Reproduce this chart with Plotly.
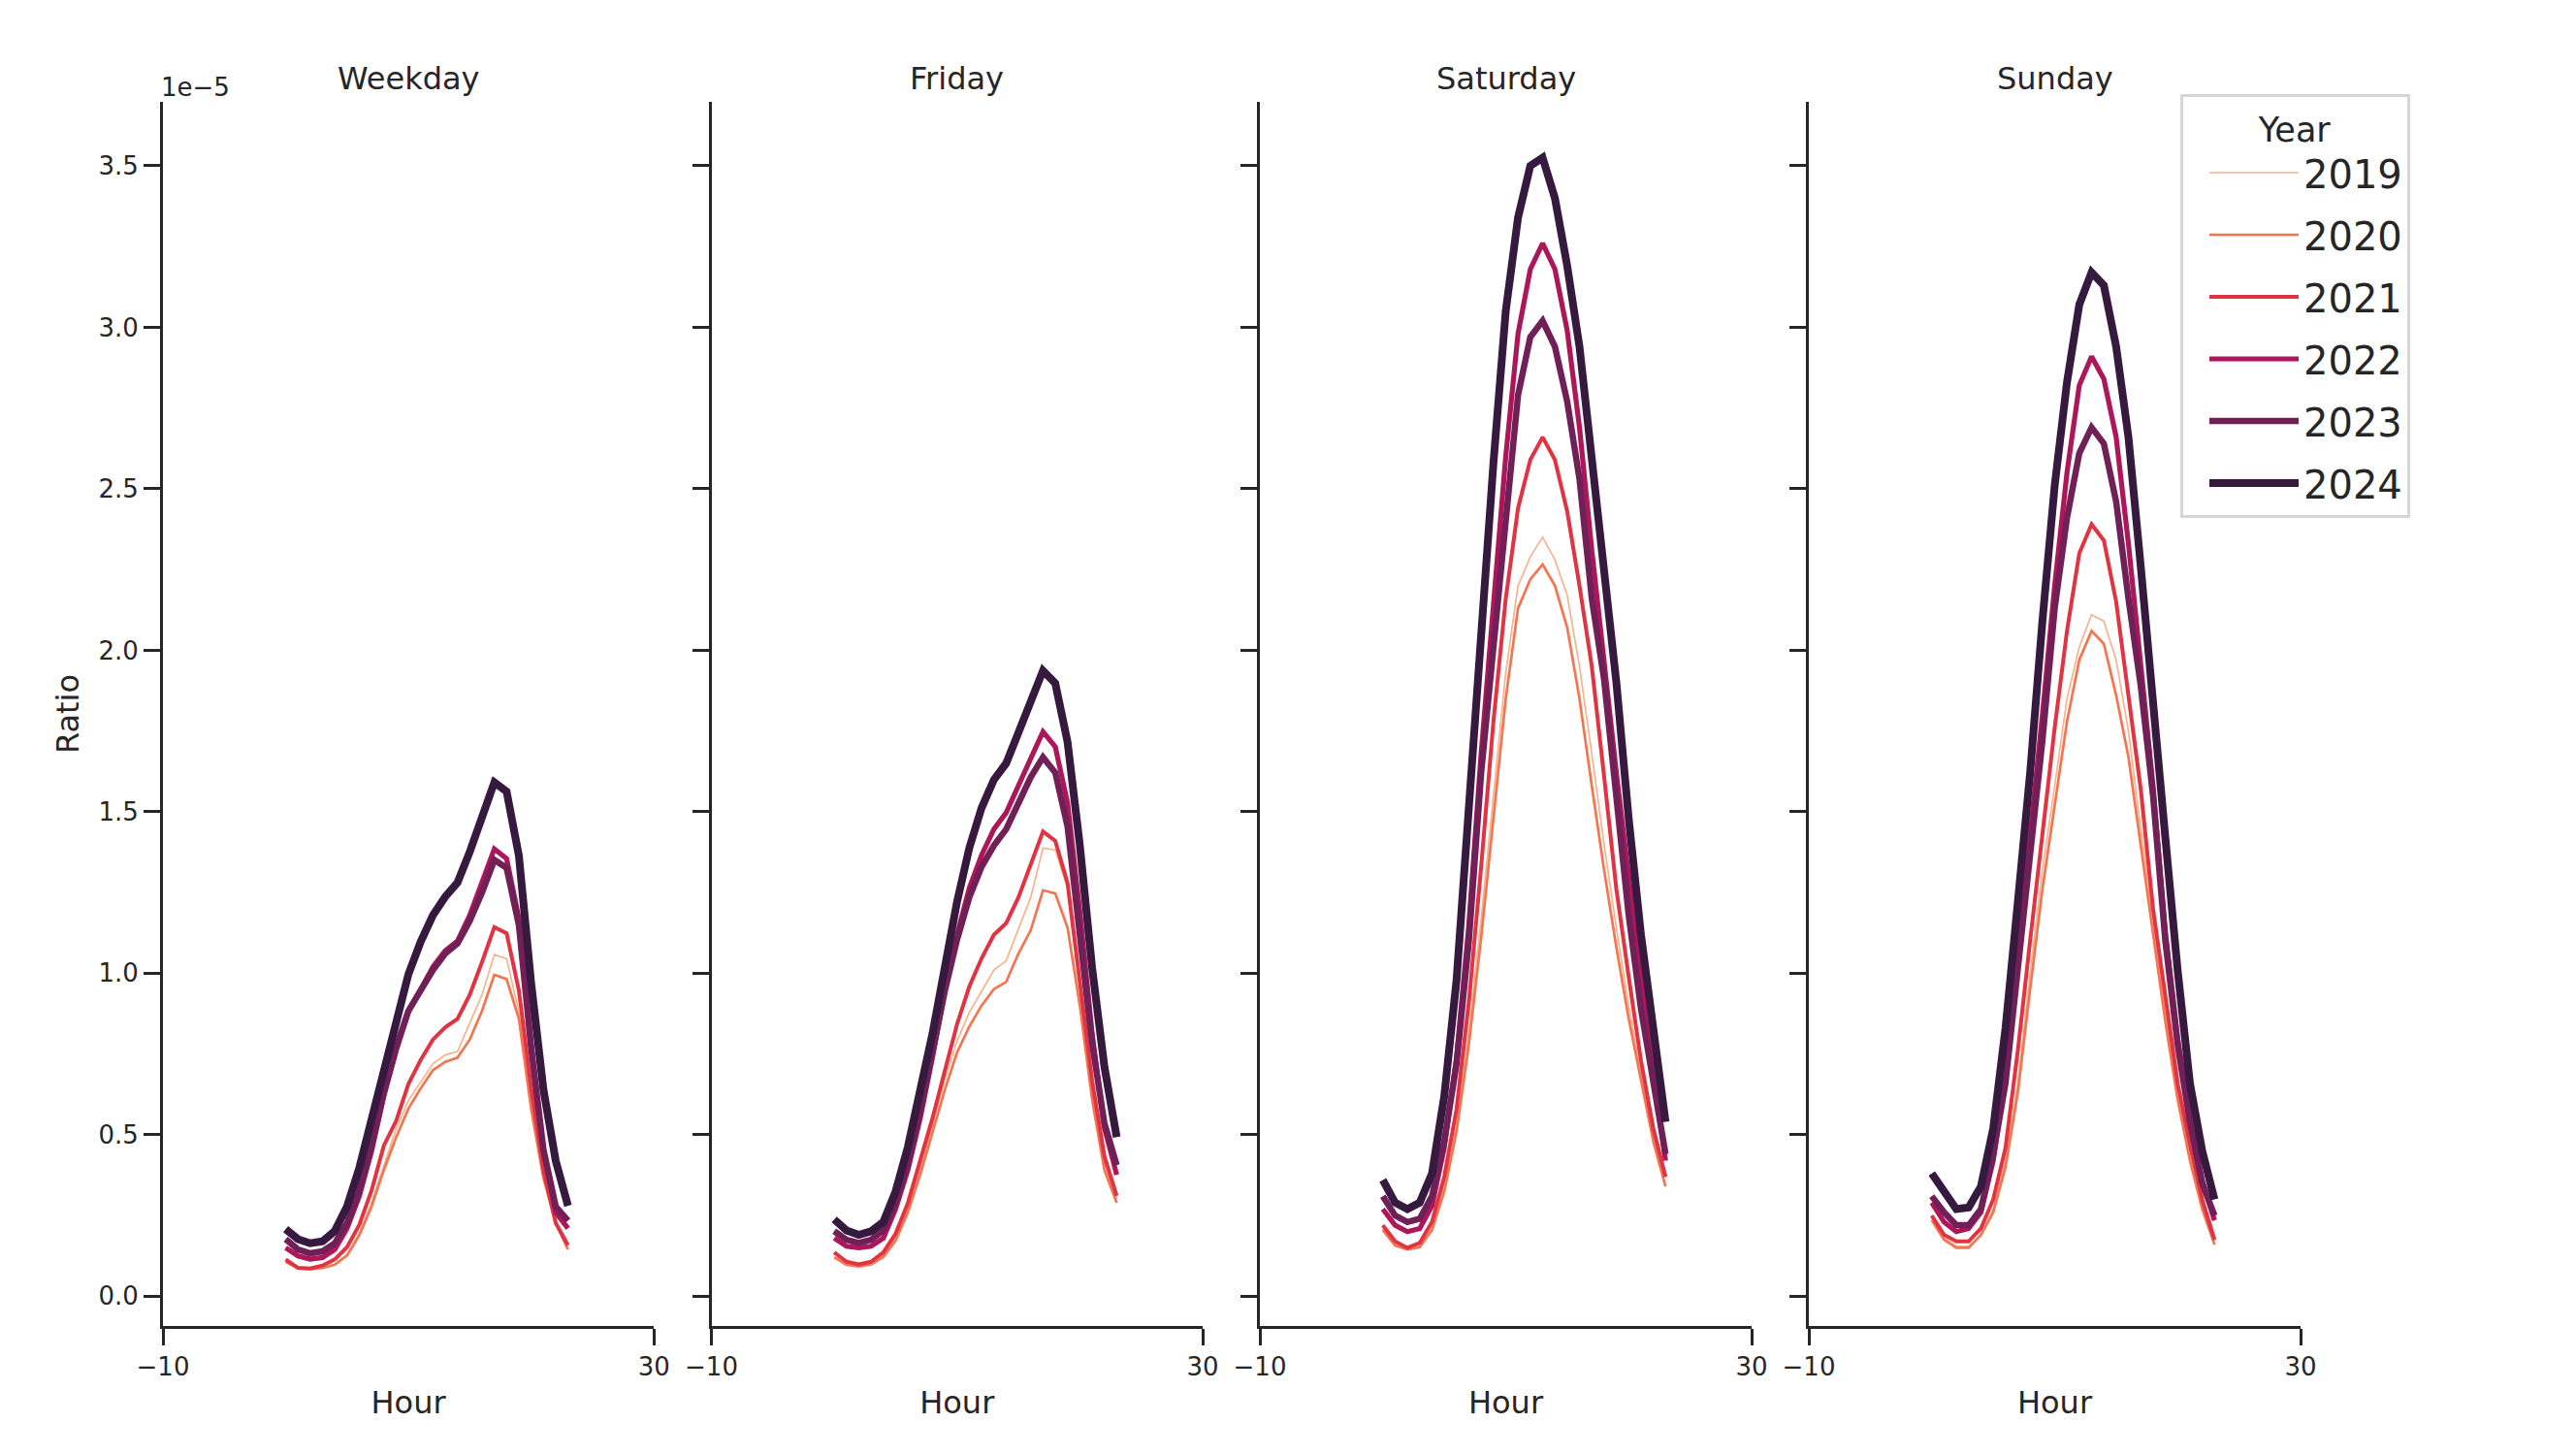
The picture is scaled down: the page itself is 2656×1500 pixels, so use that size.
import plotly.graph_objects as go

# ---------------- data (Ratio, in units of 1e-5) ----------------
hours = list(range(24))
years = ["2019", "2020", "2021", "2022", "2023", "2024"]
scale = 1e-5

weekday = {
    "2019": [0.105, 0.085, 0.083, 0.087, 0.098, 0.13, 0.195, 0.29, 0.405, 0.518, 0.606, 0.663, 0.72, 0.747, 0.758, 0.846, 0.934, 1.058, 1.045, 0.88, 0.60, 0.37, 0.23, 0.15],
    "2020": [0.107, 0.088, 0.085, 0.088, 0.098, 0.126, 0.189, 0.278, 0.391, 0.492, 0.581, 0.644, 0.70, 0.726, 0.739, 0.795, 0.884, 0.995, 0.982, 0.859, 0.58, 0.366, 0.227, 0.145],
    "2021": [0.114, 0.088, 0.086, 0.095, 0.114, 0.152, 0.221, 0.328, 0.467, 0.543, 0.657, 0.732, 0.795, 0.833, 0.859, 0.934, 1.035, 1.143, 1.124, 0.947, 0.644, 0.391, 0.227, 0.158],
    "2022": [0.15, 0.125, 0.115, 0.12, 0.145, 0.21, 0.31, 0.45, 0.62, 0.76, 0.88, 0.95, 1.02, 1.07, 1.10, 1.18, 1.28, 1.385, 1.355, 1.17, 0.78, 0.45, 0.26, 0.21],
    "2023": [0.177, 0.145, 0.133, 0.139, 0.164, 0.227, 0.328, 0.467, 0.631, 0.77, 0.884, 0.947, 1.01, 1.061, 1.092, 1.162, 1.25, 1.351, 1.326, 1.149, 0.77, 0.455, 0.278, 0.234],
    "2024": [0.208, 0.177, 0.164, 0.17, 0.202, 0.278, 0.398, 0.549, 0.713, 0.859, 0.997, 1.098, 1.18, 1.237, 1.281, 1.376, 1.49, 1.591, 1.563, 1.364, 0.97, 0.64, 0.42, 0.28],
}

friday = {
    "2019": [0.12, 0.10, 0.095, 0.10, 0.125, 0.18, 0.27, 0.39, 0.53, 0.67, 0.79, 0.879, 0.944, 1.010, 1.039, 1.135, 1.235, 1.388, 1.381, 1.264, 0.95, 0.64, 0.41, 0.30],
    "2020": [0.121, 0.097, 0.092, 0.099, 0.121, 0.172, 0.26, 0.376, 0.507, 0.638, 0.755, 0.835, 0.90, 0.951, 0.973, 1.061, 1.133, 1.257, 1.247, 1.141, 0.90, 0.609, 0.391, 0.289],
    "2021": [0.136, 0.107, 0.099, 0.107, 0.136, 0.194, 0.289, 0.42, 0.551, 0.697, 0.842, 0.959, 1.046, 1.119, 1.155, 1.235, 1.337, 1.439, 1.41, 1.279, 0.973, 0.667, 0.434, 0.311],
    "2022": [0.18, 0.155, 0.15, 0.155, 0.18, 0.27, 0.391, 0.551, 0.74, 0.944, 1.119, 1.264, 1.366, 1.446, 1.497, 1.585, 1.665, 1.748, 1.701, 1.527, 1.192, 0.813, 0.522, 0.376],
    "2023": [0.2015, 0.175, 0.165, 0.175, 0.204, 0.289, 0.413, 0.573, 0.755, 0.944, 1.104, 1.235, 1.33, 1.395, 1.446, 1.527, 1.607, 1.669, 1.621, 1.454, 1.133, 0.784, 0.536, 0.406],
    "2024": [0.238, 0.204, 0.19, 0.201, 0.23, 0.325, 0.463, 0.638, 0.813, 1.017, 1.221, 1.388, 1.512, 1.599, 1.65, 1.745, 1.847, 1.937, 1.898, 1.716, 1.396, 1.017, 0.711, 0.493],
}

saturday = {
    "2019": [0.21, 0.16, 0.145, 0.155, 0.21, 0.34, 0.53, 0.82, 1.17, 1.56, 1.93, 2.20, 2.29, 2.35, 2.28, 2.17, 1.95, 1.68, 1.40, 1.14, 0.90, 0.69, 0.49, 0.34],
    "2020": [0.205, 0.157, 0.145, 0.152, 0.205, 0.324, 0.51, 0.78, 1.11, 1.49, 1.85, 2.13, 2.22, 2.266, 2.20, 2.07, 1.85, 1.58, 1.32, 1.08, 0.86, 0.67, 0.48, 0.34],
    "2021": [0.22, 0.17, 0.15, 0.165, 0.23, 0.37, 0.58, 0.91, 1.33, 1.78, 2.16, 2.44, 2.59, 2.66, 2.59, 2.43, 2.20, 1.95, 1.61, 1.26, 0.99, 0.73, 0.52, 0.37],
    "2022": [0.27, 0.22, 0.20, 0.21, 0.28, 0.46, 0.74, 1.15, 1.68, 2.15, 2.60, 2.98, 3.18, 3.26, 3.18, 2.99, 2.69, 2.31, 1.96, 1.62, 1.30, 0.98, 0.70, 0.42],
    "2023": [0.31, 0.25, 0.23, 0.24, 0.31, 0.48, 0.72, 1.10, 1.62, 2.02, 2.37, 2.79, 2.97, 3.02, 2.94, 2.77, 2.53, 2.16, 1.91, 1.54, 1.18, 0.89, 0.66, 0.44],
    "2024": [0.36, 0.29, 0.27, 0.29, 0.38, 0.62, 0.98, 1.53, 2.08, 2.58, 3.05, 3.34, 3.50, 3.525, 3.40, 3.19, 2.94, 2.60, 2.25, 1.90, 1.48, 1.12, 0.83, 0.54],
}

sunday = {
    "2019": [0.24, 0.18, 0.155, 0.155, 0.19, 0.27, 0.42, 0.66, 1.00, 1.32, 1.58, 1.85, 2.01, 2.11, 2.09, 1.97, 1.75, 1.45, 1.17, 0.88, 0.64, 0.45, 0.29, 0.17],
    "2020": [0.235, 0.175, 0.15, 0.15, 0.19, 0.26, 0.40, 0.63, 0.95, 1.26, 1.52, 1.78, 1.97, 2.06, 2.02, 1.86, 1.67, 1.40, 1.12, 0.85, 0.61, 0.42, 0.27, 0.16],
    "2021": [0.25, 0.19, 0.17, 0.17, 0.21, 0.30, 0.46, 0.76, 1.10, 1.43, 1.76, 2.06, 2.30, 2.39, 2.34, 2.15, 1.86, 1.57, 1.20, 0.93, 0.66, 0.47, 0.30, 0.175],
    "2022": [0.29, 0.23, 0.20, 0.21, 0.26, 0.42, 0.68, 1.05, 1.42, 1.80, 2.20, 2.55, 2.82, 2.91, 2.84, 2.66, 2.33, 1.97, 1.58, 1.13, 0.80, 0.55, 0.36, 0.235],
    "2023": [0.31, 0.26, 0.22, 0.22, 0.27, 0.44, 0.66, 1.02, 1.38, 1.72, 2.13, 2.41, 2.61, 2.69, 2.64, 2.46, 2.16, 1.89, 1.55, 1.10, 0.78, 0.54, 0.35, 0.25],
    "2024": [0.38, 0.32, 0.27, 0.275, 0.34, 0.52, 0.83, 1.22, 1.62, 2.09, 2.51, 2.83, 3.07, 3.17, 3.13, 2.94, 2.66, 2.26, 1.87, 1.42, 1.01, 0.66, 0.45, 0.30],
}

panel_names = ["Weekday", "Friday", "Saturday", "Sunday"]
panel_data = [weekday, friday, saturday, sunday]

y_tick_values = [0.0, 0.5, 1.0, 1.5, 2.0, 2.5, 3.0, 3.5]
y_tick_labels = ["0.0", "0.5", "1.0", "1.5", "2.0", "2.5", "3.0", "3.5"]
x_tick_values = [-10, 30]

# ---------------- style / layout ----------------
colors = ["#f6b48f", "#f37651", "#e13342", "#ad1759", "#701f57", "#35193e"]
widths = [1.7, 2.7, 4.0, 5.2, 6.5, 8.0]
W, H = 2656, 1500
FONT = "DejaVu Sans"
INK = "#262626"
OFF = 8.0  # page body offset of the figure in the screenshot

# plot-area margins (pixels, in screenshot coordinates minus page offset)
L, R, T, B = 168.0 - OFF, 284.0 + OFF, 105.0 - OFF, 133.0 + OFF
PW, PH = W - L - R, H - T - B


def px_x(px):
    return (px - OFF - L) / PW


def px_y(py):
    return (H - B - (py - OFF)) / PH


x_px = [(168.0, 674.2), (733.5, 1240.0), (1299.0, 1806.0), (1865.0, 2372.0)]

fig = go.Figure()

for i, (name, data) in enumerate(zip(panel_names, panel_data)):
    xa = "x" if i == 0 else f"x{i+1}"
    ya = "y" if i == 0 else f"y{i+1}"
    for j, yr in enumerate(years):
        fig.add_trace(go.Scatter(
            x=hours, y=[v * scale for v in data[yr]],
            mode="lines", name=yr, legendgroup=yr, showlegend=(i == 0),
            line=dict(color=colors[j], width=widths[j]),
            xaxis=xa, yaxis=ya,
        ))

axis_common = dict(
    showline=True, linecolor=INK, linewidth=3, mirror=False,
    ticks="outside", ticklen=17, tickwidth=3, tickcolor=INK,
    showgrid=False, zeroline=False, automargin=False,
    tickfont=dict(family=FONT, size=26, color=INK),
)

layout = dict(
    width=W, height=H,
    margin=dict(l=L, r=R, t=T, b=B, autoexpand=False),
    paper_bgcolor="white", plot_bgcolor="white",
    font=dict(family=FONT, color=INK),
    showlegend=True,
    legend=dict(
        title=dict(text="Year", font=dict(family=FONT, size=35, color=INK), side="top center"),
        font=dict(family=FONT, size=40, color=INK),
        x=px_x(2248), y=px_y(97), xanchor="left", yanchor="top",
        bgcolor="rgba(255,255,255,0.8)", bordercolor="#d6d6d6", borderwidth=3,
        tracegroupgap=9, itemwidth=92, indentation=22,
    ),
)

yr_lo, yr_hi = -0.092 * scale, 3.698 * scale
for i in range(4):
    xk = "xaxis" if i == 0 else f"xaxis{i+1}"
    yk = "yaxis" if i == 0 else f"yaxis{i+1}"
    ya = "y" if i == 0 else f"y{i+1}"
    xa = "x" if i == 0 else f"x{i+1}"
    layout[xk] = dict(
        axis_common,
        domain=[px_x(x_px[i][0]), px_x(x_px[i][1])],
        range=[-10, 30], tickvals=x_tick_values, anchor=ya,
        title=dict(text="Hour", font=dict(family=FONT, size=32, color=INK), standoff=12),
    )
    ycfg = dict(
        axis_common,
        domain=[0, 1], range=[yr_lo, yr_hi], anchor=xa,
        tickvals=[v * scale for v in y_tick_values], ticktext=y_tick_labels,
        showticklabels=(i == 0),
    )
    if i == 0:
        ycfg["title"] = dict(text="Ratio", font=dict(family=FONT, size=32, color=INK), standoff=11)
    else:
        ycfg["matches"] = "y"
    layout[yk] = ycfg

annotations = []
for i, name in enumerate(panel_names):
    annotations.append(dict(
        text=name, xref="paper", yref="paper",
        x=px_x((x_px[i][0] + x_px[i][1]) / 2), y=px_y(81),
        xanchor="center", yanchor="middle", showarrow=False,
        font=dict(family=FONT, size=32, color=INK),
    ))
annotations.append(dict(
    text="1e\u22125", xref="paper", yref="paper",
    x=px_x(164), y=px_y(90), xanchor="left", yanchor="middle", showarrow=False,
    font=dict(family=FONT, size=26, color=INK),
))
layout["annotations"] = annotations

fig.update_layout(**layout)
fig.write_html("out.html")
